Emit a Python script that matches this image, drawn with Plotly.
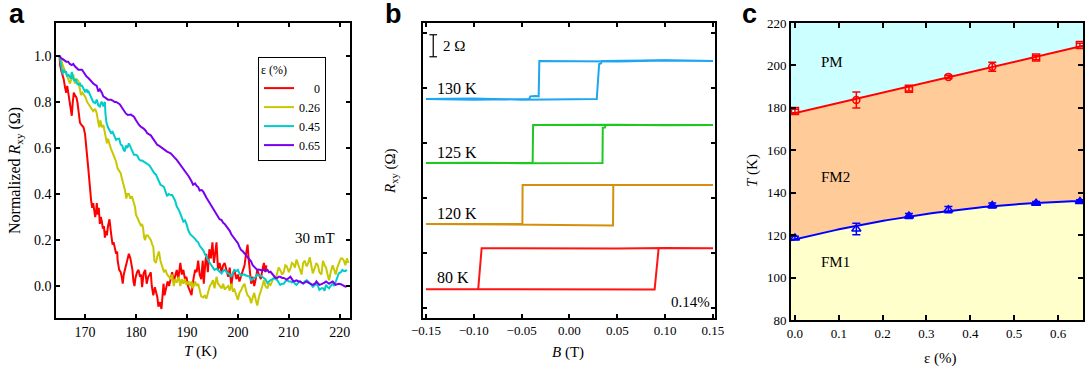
import numpy as np
import plotly.graph_objects as go

# ---------------- Panel a : normalized Rxy vs T ----------------
T_e0 = [165.0,165.1,165.4,165.8,166.1,166.3,166.5,166.8,167.1,167.4,167.6,167.8,168.0,168.3,168.5,168.7,169.0,169.3,169.7,170.0,
        170.2,170.4,170.6,170.8,171.0,171.2,171.4,171.6,171.8,172.0,172.2,172.3,172.5,172.7,172.9,173.1,173.3,173.5,173.7,173.9,
        174.1,174.3,174.5,174.8,175.1,175.4,175.6,175.8,176.1,176.3,176.4,176.7,177.0,177.2,177.4,177.6,177.8,178.0,178.3,178.6,
        178.9,179.1,179.3,179.5,179.7,179.9,180.2,180.5,180.8,181.0,181.2,181.5,181.8,182.1,182.4,182.7,182.9,183.1,183.4,183.7,
        184.0,184.2,184.4,184.7,185.0,185.2,185.4,185.6,185.9,186.2,186.5,186.8,187.1,187.4,187.7,188.0,188.3,188.7,189.0,189.3,
        189.6,189.9,190.2,190.5,190.9,191.2,191.6,191.9,192.2,192.5,192.8,193.1,193.3,193.6,193.8,194.1,194.4,194.7,195.0,195.3,
        195.6,195.8,196.1,196.4,196.8,197.1,197.4,197.8,198.1,198.4,198.7,199.0,199.3,199.7,200.0,200.3,200.6,201.0,201.3,201.6,
        201.9,202.1,202.3,202.6,202.9,203.2,203.5,203.8,204.1,204.5,204.8,205.1,205.4,205.6]
R_e0 = [1.00,0.96,0.93,0.90,0.86,0.84,0.87,0.83,0.79,0.74,0.80,0.84,0.83,0.82,0.80,0.77,0.71,0.70,0.69,0.66,
        0.62,0.58,0.52,0.47,0.40,0.37,0.34,0.36,0.33,0.30,0.33,0.36,0.31,0.34,0.27,0.30,0.28,0.25,0.26,0.21,
        0.24,0.22,0.26,0.29,0.23,0.18,0.19,0.165,0.14,0.15,0.11,0.07,0.06,0.04,0.01,0.05,0.07,0.08,0.11,0.14,
        0.12,0.10,0.07,0.02,0.00,0.035,0.06,0.07,0.04,0.05,-0.005,0.055,0.07,0.01,0.04,0.05,0.06,0.00,-0.04,-0.005,
        -0.03,-0.05,-0.09,-0.07,-0.10,-0.02,0.01,-0.04,-0.01,0.02,0.00,0.03,0.06,0.02,0.05,0.07,0.03,0.10,0.05,0.07,
        0.03,0.04,0.00,-0.02,-0.04,0.02,0.07,0.06,0.11,0.05,0.03,0.11,0.01,0.10,0.14,0.06,0.16,0.12,0.19,0.10,
        0.15,0.19,0.07,0.10,0.06,0.09,0.10,0.06,0.04,0.08,0.00,0.05,0.07,0.03,0.05,0.02,0.04,0.07,0.09,0.14,
        0.18,0.12,0.06,0.01,0.04,0.00,0.03,0.07,0.05,0.03,0.07,0.10,0.06,0.09]

T_e26 = [165.0,165.3,165.6,166.0,166.3,166.7,167.0,167.4,167.7,168.0,168.3,168.7,169.0,169.2,169.5,169.8,170.1,170.4,170.7,171.0,
         171.3,171.6,172.0,172.3,172.6,172.8,173.0,173.3,173.6,173.9,174.1,174.3,174.5,174.8,175.1,175.4,175.8,176.1,176.4,176.7,
         177.0,177.2,177.5,177.8,178.1,178.3,178.6,178.9,179.2,179.5,179.8,180.0,180.2,180.4,180.7,181.0,181.2,181.4,181.6,181.8,
         182.0,182.3,182.6,182.9,183.2,183.4,183.6,183.9,184.2,184.5,184.8,185.2,185.5,185.8,186.1,186.5,186.8,187.1,187.4,187.7,
         188.0,188.4,188.7,189.0,189.3,189.6,189.9,190.3,190.6,190.9,191.2,191.6,191.9,192.2,192.5,192.8,193.2,193.5,193.8,194.1,
         194.5,194.8,195.1,195.4,195.8,196.1,196.4,196.8,197.1,197.4,197.8,198.1,198.4,198.7,199.0,199.3,199.7,200.0,200.3,200.6,
         201.0,201.3,201.6,201.9,202.3,202.6,202.9,203.2,203.5,203.8,204.1,204.5,204.8,205.1,205.4,205.8,206.1,206.4,206.8,207.1,
         207.4,207.7,208.0,208.3,208.7,209.0,209.3,209.6,210.0,210.3,210.6,210.9,211.2,211.5,211.9,212.2,212.5,212.8,213.1,213.5,
         213.8,214.1,214.4,214.7,215.1,215.4,215.7,216.0,216.4,216.7,217.0,217.3,217.6,217.9,218.2,218.6,218.9,219.2,219.5,219.8,
         220.2,220.5,220.8,221.1,221.4,221.7]
R_e26 = [1.00,0.99,0.96,0.94,0.92,0.90,0.88,0.90,0.92,0.88,0.90,0.89,0.85,0.83,0.84,0.83,0.82,0.80,0.79,0.78,
         0.77,0.76,0.77,0.75,0.71,0.69,0.72,0.69,0.70,0.67,0.64,0.62,0.64,0.61,0.595,0.58,0.56,0.54,0.51,0.50,
         0.49,0.47,0.45,0.42,0.38,0.40,0.40,0.38,0.39,0.37,0.345,0.31,0.30,0.29,0.28,0.26,0.27,0.25,0.21,0.20,
         0.22,0.22,0.21,0.20,0.18,0.17,0.11,0.10,0.13,0.15,0.11,0.08,0.06,0.07,0.05,0.04,0.03,0.05,0.00,0.03,
         0.015,0.04,0.00,0.03,0.01,0.03,0.005,0.02,0.00,0.02,-0.01,0.02,0.00,0.01,-0.02,-0.045,-0.05,-0.04,-0.055,-0.03,
         0.00,0.01,0.025,-0.01,0.04,0.01,0.00,-0.01,0.01,-0.015,-0.005,0.00,-0.02,0.01,-0.02,-0.015,-0.04,-0.06,-0.03,-0.02,
         0.00,0.01,-0.02,-0.04,-0.05,-0.075,-0.05,-0.03,-0.06,-0.085,-0.05,-0.025,0.00,0.026,0.00,-0.01,0.01,0.005,0.03,0.04,
         0.03,0.055,0.08,0.07,0.05,0.06,0.09,0.085,0.06,0.075,0.10,0.095,0.08,0.115,0.09,0.07,0.05,0.10,0.11,0.085,
         0.10,0.125,0.09,0.055,0.08,0.10,0.09,0.06,0.05,0.11,0.09,0.08,0.05,0.025,0.06,0.09,0.07,0.05,0.08,0.10,
         0.12,0.12,0.11,0.09,0.12,0.10]

T_e45 = [165.0,165.2,165.4,165.6,165.8,166.0,166.3,166.5,166.7,167.0,167.2,167.4,167.7,168.0,168.2,168.4,168.7,169.0,169.2,169.4,
         169.7,170.0,170.3,170.5,170.7,171.0,171.3,171.6,172.0,172.3,172.6,172.9,173.1,173.3,173.6,173.8,173.9,174.0,174.2,174.5,
         174.8,175.1,175.4,175.8,176.1,176.4,176.7,177.0,177.3,177.6,177.8,178.0,178.3,178.6,179.0,179.3,179.6,180.0,180.3,180.6,
         180.9,181.2,181.5,181.8,182.2,182.6,182.9,183.3,183.6,183.9,184.2,184.5,184.8,185.2,185.5,185.8,186.1,186.4,186.8,187.1,
         187.4,187.7,188.0,188.3,188.7,189.0,189.3,189.6,189.9,190.3,190.6,190.9,191.2,191.6,191.9,192.2,192.5,192.9,193.2,193.5,
         193.8,194.1,194.5,194.8,195.1,195.4,195.8,196.1,196.4,196.8,197.1,197.4,197.8,198.1,198.4,198.7,199.0,199.3,199.7,200.0,
         200.3,200.6,201.0,201.3,201.6,201.9,202.3,202.6,202.9,203.2,203.5,203.8,204.1,204.5,204.8,205.1,205.4,205.8,206.1,206.4,
         206.8,207.1,207.4,207.7,208.0,208.3,208.7,209.0,209.3,209.6,210.0,210.3,210.6,210.9,211.2,211.5,211.9,212.2,212.5,212.8,
         213.1,213.5,213.8,214.1,214.4,214.7,215.1,215.4,215.7,216.0,216.4,216.7,217.0,217.3,217.6,217.9,218.2,218.6,218.9,219.2,
         219.5,219.8,220.2,220.5,220.8,221.1,221.4]
R_e45 = [1.00,0.98,0.95,0.92,0.94,0.93,0.93,0.91,0.92,0.91,0.90,0.93,0.90,0.89,0.90,0.88,0.875,0.88,0.87,0.87,
         0.86,0.845,0.855,0.84,0.845,0.83,0.81,0.80,0.795,0.81,0.785,0.78,0.795,0.80,0.78,0.79,0.80,0.75,0.71,0.69,
         0.675,0.665,0.67,0.65,0.635,0.64,0.64,0.615,0.61,0.59,0.585,0.61,0.60,0.62,0.60,0.585,0.57,0.57,0.565,0.55,
         0.545,0.545,0.54,0.535,0.53,0.525,0.515,0.50,0.49,0.485,0.47,0.455,0.44,0.435,0.43,0.41,0.39,0.40,0.395,0.395,
         0.38,0.37,0.345,0.335,0.315,0.30,0.28,0.285,0.27,0.24,0.226,0.22,0.214,0.205,0.195,0.19,0.175,0.165,0.155,0.14,
         0.13,0.115,0.10,0.09,0.08,0.07,0.075,0.07,0.065,0.055,0.065,0.07,0.06,0.055,0.05,0.04,0.055,0.07,0.065,0.07,
         0.055,0.045,0.05,0.05,0.045,0.045,0.04,0.025,0.03,0.035,0.04,0.05,0.045,0.045,0.04,0.035,0.03,0.013,0.02,0.026,
         0.03,0.035,0.03,0.026,0.015,0.005,0.01,0.01,0.02,0.026,0.02,0.02,0.015,0.02,0.01,0.005,0.015,0.02,0.015,0.01,
         0.02,0.025,0.02,0.01,0.005,-0.003,0.005,0.01,0.0,-0.017,-0.01,-0.01,-0.02,0.005,-0.005,-0.01,0.00,0.01,0.00,0.02,
         0.04,0.055,0.06,0.07,0.065,0.065,0.07]

T_e65 = [165.0,165.3,165.7,166.0,166.3,166.7,167.0,167.4,167.7,168.0,168.4,168.7,169.0,169.4,169.7,170.0,170.3,170.7,171.0,171.3,
         171.6,172.0,172.3,172.6,172.9,173.3,173.6,173.9,174.2,174.5,174.8,175.1,175.5,175.8,176.1,176.4,176.8,177.1,177.4,177.7,
         178.0,178.4,178.7,179.0,179.3,179.6,180.0,180.3,180.6,180.9,181.2,181.5,181.9,182.2,182.5,182.9,183.2,183.5,183.9,184.2,
         184.5,184.8,185.2,185.5,185.8,186.1,186.5,186.8,187.1,187.4,187.7,188.0,188.4,188.7,189.0,189.3,189.6,189.9,190.3,190.6,
         190.9,191.2,191.6,191.9,192.2,192.5,192.9,193.2,193.5,193.8,194.1,194.5,194.8,195.1,195.4,195.8,196.1,196.4,196.8,197.1,
         197.4,197.8,198.1,198.4,198.7,199.0,199.3,199.7,200.0,200.3,200.6,201.0,201.3,201.6,201.9,202.3,202.6,202.9,203.2,203.5,
         203.8,204.1,204.5,204.8,205.1,205.4,205.8,206.1,206.4,206.8,207.1,207.4,207.7,208.0,208.3,208.7,209.0,209.3,209.6,210.0,
         210.3,210.6,210.9,211.2,211.5,211.9,212.2,212.5,212.8,213.1,213.5,213.8,214.1,214.4,214.7,215.1,215.4,215.7,216.0,216.4,
         216.7,217.0,217.3,217.6,217.9,218.2,218.6,218.9,219.2,219.5,219.8,220.2,220.5,220.8,221.1,221.4,221.7]
R_e65 = [1.00,0.99,0.985,0.98,0.975,0.975,0.965,0.96,0.965,0.955,0.946,0.94,0.94,0.94,0.93,0.917,0.91,0.903,0.895,0.888,
         0.88,0.874,0.87,0.845,0.855,0.84,0.823,0.82,0.815,0.81,0.81,0.81,0.805,0.80,0.80,0.795,0.79,0.78,0.77,0.758,
         0.75,0.743,0.745,0.745,0.74,0.736,0.72,0.707,0.70,0.693,0.69,0.684,0.675,0.664,0.66,0.655,0.645,0.635,0.625,0.613,
         0.61,0.605,0.598,0.591,0.59,0.584,0.58,0.577,0.57,0.56,0.555,0.548,0.535,0.526,0.515,0.504,0.495,0.49,0.478,0.468,
         0.455,0.44,0.446,0.435,0.43,0.415,0.417,0.41,0.40,0.385,0.374,0.36,0.35,0.34,0.33,0.315,0.305,0.29,0.287,0.275,
         0.27,0.26,0.252,0.24,0.225,0.215,0.21,0.195,0.186,0.17,0.157,0.15,0.142,0.135,0.125,0.115,0.106,0.09,0.084,0.08,
         0.07,0.072,0.07,0.068,0.07,0.065,0.07,0.06,0.062,0.05,0.04,0.035,0.035,0.04,0.04,0.035,0.035,0.03,0.028,0.035,
         0.04,0.03,0.02,0.022,0.025,0.02,0.02,0.015,0.012,0.015,0.02,0.015,0.012,0.008,0.005,0.01,0.02,0.012,0.005,0.008,
         0.01,0.015,0.02,0.015,0.01,0.015,0.02,0.012,0.005,0.008,0.01,0.008,0.005,0.002,-0.003,0.0,0.0]

strain_labels = ["\u2007\u2008\u20070", "0.26", "0.45", "0.65"]
colors_a = ["#FF0000", "#C8C800", "#00CCCC", "#7A00F0"]

# ---------------- Panel b : hysteresis loops (Ohm, offset) ----------------
B_130 = [-0.15,-0.10,-0.05,0.0,0.0285,0.031,0.033,0.034,0.08,0.15,0.15,0.10,0.05,0.0,-0.0315,-0.0322,-0.036,-0.041,-0.042,-0.10,-0.15]
R_130 = [19.0,19.05,18.95,19.0,19.0,22.2,22.25,22.46,22.5,22.46,22.46,22.5,22.42,22.48,22.46,19.25,19.28,19.25,19.0,18.95,19.0]
B_125 = [-0.15,-0.10,-0.05,0.0,0.0345,0.0348,0.037,0.038,0.09,0.15,0.15,0.10,0.05,0.0,-0.038,-0.0385,-0.10,-0.15]
R_125 = [13.2,13.22,13.17,13.2,13.2,16.4,16.42,16.65,16.68,16.65,16.65,16.62,16.68,16.64,16.65,13.2,13.18,13.2]
B_120 = [-0.15,-0.10,-0.05,0.0,0.0455,0.0458,0.10,0.15,0.15,0.10,0.05,0.0,-0.049,-0.0492,-0.10,-0.15]
R_120 = [7.65,7.62,7.55,7.5,7.52,11.19,11.2,11.17,11.19,11.22,11.18,11.2,11.19,7.65,7.63,7.65]
B_80 = [-0.15,-0.10,-0.05,0.0,0.05,0.089,0.0932,0.12,0.15,0.15,0.10,0.05,0.0,-0.05,-0.0918,-0.0954,-0.12,-0.15]
R_80 = [1.71,1.7,1.68,1.7,1.66,1.7,5.44,5.42,5.44,5.44,5.46,5.42,5.44,5.45,5.44,1.71,1.72,1.71]
loop_labels = ["130 K", "125 K", "120 K", "80 K"]
colors_b = ["#1EA6F0", "#1EC81E", "#D4900C", "#FF1414"]

# ---------------- Panel c : phase diagram ----------------
eps = [0.0, 0.14, 0.26, 0.35, 0.45, 0.55, 0.65]
T_PM = [178.5, 183.7, 189.0, 194.6, 199.4, 203.7, 209.6]
T_PM_err = [0.8, 3.8, 1.0, 0.8, 2.1, 1.0, 0.8]
T_FM = [118.7, 122.9, 129.0, 132.0, 134.0, 135.0, 135.9]
T_FM_err = [0.8, 2.7, 1.2, 1.5, 1.2, 0.8, 0.8]

W, H = 1090, 369
def px(x): return x / W
def py(y): return 1 - y / H

SERIF = "Liberation Serif, Times New Roman, serif"
fig = go.Figure()

# panel a traces
for T, R, c, lab in zip([T_e0, T_e26, T_e45, T_e65], [R_e0, R_e26, R_e45, R_e65], colors_a, strain_labels):
    fig.add_trace(go.Scatter(x=T, y=R, mode="lines", line=dict(color=c, width=2), name=lab,
                             xaxis="x", yaxis="y", showlegend=True))

# panel b traces
for Bv, Rv, c in zip([B_130, B_125, B_120, B_80], [R_130, R_125, R_120, R_80], colors_b):
    fig.add_trace(go.Scatter(x=Bv, y=Rv, mode="lines", line=dict(color=c, width=2),
                             xaxis="x2", yaxis="y2", showlegend=False))

# panel c fits and regions
xr = [-0.009, 0.657]
xf = np.linspace(xr[0], xr[1], 80)
red_fit = np.polyval(np.polyfit(eps, T_PM, 1), xf)
blue_fit = np.polyval(np.polyfit(eps, T_FM, 2), xf)
fig.add_trace(go.Scatter(x=xf, y=blue_fit, mode="lines", line=dict(width=0), fill="tozeroy",
                         fillcolor="#FFFFCC", xaxis="x3", yaxis="y3", showlegend=False, hoverinfo="skip"))
fig.add_trace(go.Scatter(x=xf, y=red_fit, mode="lines", line=dict(width=0), fill="tonexty",
                         fillcolor="#FFCC99", xaxis="x3", yaxis="y3", showlegend=False, hoverinfo="skip"))
fig.add_trace(go.Scatter(x=xf, y=np.full_like(xf, 220.0), mode="lines", line=dict(width=0), fill="tonexty",
                         fillcolor="#CCFFFF", xaxis="x3", yaxis="y3", showlegend=False, hoverinfo="skip"))
fig.add_trace(go.Scatter(x=xf, y=red_fit, mode="lines", line=dict(color="#FF0000", width=2),
                         xaxis="x3", yaxis="y3", showlegend=False))
fig.add_trace(go.Scatter(x=xf, y=blue_fit, mode="lines", line=dict(color="#0000FF", width=2),
                         xaxis="x3", yaxis="y3", showlegend=False))
fig.add_trace(go.Scatter(x=eps, y=T_PM, mode="markers",
                         marker=dict(symbol=["square-open", "circle-open", "square-open", "circle-open",
                                             "circle-open", "square-open", "square-open"],
                                     size=7, color="#FF0000", line=dict(width=1.5, color="#FF0000")),
                         error_y=dict(type="data", array=T_PM_err, color="#FF0000", thickness=1.5, width=4),
                         xaxis="x3", yaxis="y3", showlegend=False))
fig.add_trace(go.Scatter(x=eps, y=T_FM, mode="markers",
                         marker=dict(symbol=["triangle-up-open", "triangle-up-open", "triangle-up", "triangle-up-open",
                                             "triangle-up", "triangle-up", "triangle-up"],
                                     size=8, color="#0000FF", line=dict(width=1.5, color="#0000FF")),
                         error_y=dict(type="data", array=T_FM_err, color="#0000FF", thickness=1.5, width=4),
                         xaxis="x3", yaxis="y3", showlegend=False))

def ax(domain, anchor, rng, **kw):
    d = dict(domain=domain, anchor=anchor, range=rng, showline=True, linecolor="black", linewidth=1.5,
             mirror="ticks", ticks="inside", ticklen=4, tickwidth=1.5, tickcolor="black",
             showgrid=False, zeroline=False, automargin=False,
             tickfont=dict(family=SERIF, size=14, color="black"))
    d.update(kw)
    return d

yd_ab = [py(318), py(23)]
yd_c = [py(320), py(23)]

fig.update_layout(
    width=W, height=H, margin=dict(l=0, r=0, t=0, b=0, autoexpand=False),
    font=dict(family=SERIF, color="black"),
    paper_bgcolor="white", plot_bgcolor="rgba(0,0,0,0)",
    xaxis=ax([px(56), px(350)], "y", [164.3, 222.0], tickvals=[170, 180, 190, 200, 210, 220]),
    yaxis=ax(yd_ab, "x", [-0.139, 1.143], tickvals=[0, 0.2, 0.4, 0.6, 0.8, 1.0], tickformat=".1f"),
    xaxis2=ax([px(423), px(715)], "y2", [-0.1531, 0.1521],
              tickvals=[-0.15, -0.10, -0.05, 0.0, 0.05, 0.10, 0.15], tickformat=".2f",
              tickfont=dict(family=SERIF, size=13, color="black")),
    yaxis2=ax(yd_ab, "x2", [-0.9, 25.92], tickvals=[0, 5, 10, 15, 20, 25], showticklabels=False),
    xaxis3=ax([px(791), px(1083)], "y3", xr, tickvals=[0, 0.1, 0.2, 0.3, 0.4, 0.5, 0.6], tickformat=".1f",
              linewidth=2, ticklen=5, tickfont=dict(family=SERIF, size=13, color="black")),
    yaxis3=ax(yd_c, "x3", [80, 220], tickvals=[80, 100, 120, 140, 160, 180, 200, 220],
              linewidth=2, ticklen=5, tickfont=dict(family=SERIF, size=13, color="black")),
    legend=dict(x=px(258), y=py(57), xanchor="left", yanchor="top", bgcolor="white",
                bordercolor="black", borderwidth=1, tracegroupgap=0, itemwidth=30, traceorder="normal",
                font=dict(family=SERIF, size=12, color="black"),
                title=dict(text="\u03b5 (%)", font=dict(family=SERIF, size=12, color="black"))),
)

ann = []
def A(text, x, y, size=15, xanchor="center", angle=0, family=SERIF, bold=False, yanchor="middle"):
    ann.append(dict(text=("<b>%s</b>" % text) if bold else text, x=px(x), y=py(y), xref="paper", yref="paper",
                    showarrow=False, xanchor=xanchor, yanchor=yanchor, textangle=angle,
                    font=dict(family=family, size=size, color="black")))

A("a", 17, 14, size=27, family="Liberation Sans, Arial, sans-serif", bold=True)
A("b", 393, 14, size=27, family="Liberation Sans, Arial, sans-serif", bold=True)
A("c", 749, 14, size=27, family="Liberation Sans, Arial, sans-serif", bold=True)
A("Normalized <i>R</i><sub>xy</sub> (\u03a9)", 15, 171, size=16, angle=-90)
A("<i>T</i> (K)", 200, 351)
A("<i>R</i><sub>xy</sub> (\u03a9)", 391, 171, size=15, angle=-90)
A("<i>B</i> (T)", 568, 352)
A("<i>T</i> (K)", 752, 171, size=15, angle=-90)
A("\u03b5 (%)", 940, 358)
A("30 mT", 315, 238)
A("PM", 832, 62)
A("FM2", 835, 177)
A("FM1", 835, 262)
for lab, yy in zip(loop_labels, [89, 152, 213, 277]):
    A(lab, 435, yy, size=16, xanchor="left")
A("0.14%", 712, 302, xanchor="right")
A("2 \u03a9", 441, 46, xanchor="left")
fig.update_layout(annotations=ann)

# 2 Ohm scale bar (in data units of panel b)
sb_x, sb_y0, sb_len, cap = -0.1424, 22.85, 2.0, 0.004
fig.add_shape(type="line", xref="x2", yref="y2", x0=sb_x, x1=sb_x, y0=sb_y0, y1=sb_y0 + sb_len,
              line=dict(color="black", width=1.2))
for yy in (sb_y0, sb_y0 + sb_len):
    fig.add_shape(type="line", xref="x2", yref="y2", x0=sb_x - cap, x1=sb_x + cap, y0=yy, y1=yy,
                  line=dict(color="black", width=1.2))

fig.write_html("out.html", config={"displayModeBar": False},
               post_script="document.body.style.margin='0px';document.body.style.overflow='hidden';")
